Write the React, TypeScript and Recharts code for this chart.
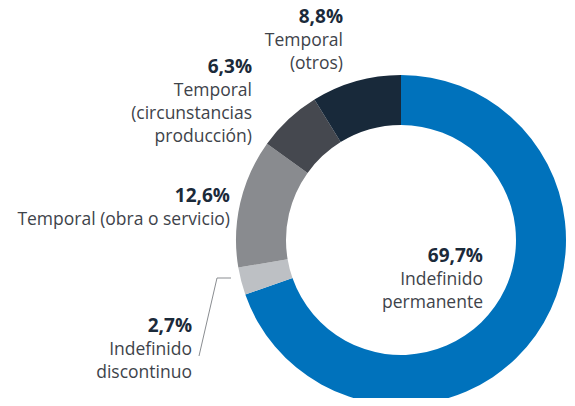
import React from "react";
import { PieChart, Pie, Cell } from "recharts";

// contract types, share of total (%)
const categories = [
  "Indefinido permanente",
  "Indefinido discontinuo",
  "Temporal (obra o servicio)",
  "Temporal (circunstancias producción)",
  "Temporal (otros)",
];
const shares = [69.7, 2.7, 12.6, 6.3, 8.8];
const valueLabels = ["69,7%", "2,7%", "12,6%", "6,3%", "8,8%"];
const labelLines = [
  ["Indefinido", "permanente"],
  ["Indefinido", "discontinuo"],
  ["Temporal (obra o servicio)"],
  ["Temporal", "(circunstancias", "producción)"],
  ["Temporal", "(otros)"],
];

const COLORS = ["#0072BC", "#BDC0C4", "#898B8F", "#45484F", "#18293A"];
const TEXT = "#3E434A";
const BOLD = "#1B2A3A";
const FONT = "'Open Sans', sans-serif";

// label anchor (right edge, first baseline) relative to pie centre
const LABEL_POS = [
  [82, 22],
  [-209, 92],
  [-171, -38],
  [-149, -167],
  [-58, -217],
];

const data = categories.map((name, i) => ({ name, value: shares[i] }));

const renderLabel = (props: any) => {
  const { cx, cy, index } = props;
  const [dx, dy] = LABEL_POS[index];
  const x = cx + dx;
  const y = cy + dy;
  return (
    <g key={`lbl-${index}`}>
      <text x={x} y={y} textAnchor="end" fontFamily={FONT} fontSize={19} fontWeight={700} fill={BOLD}>
        {valueLabels[index]}
      </text>
      <text x={x} y={y} textAnchor="end" fontFamily={FONT} fontSize={17.5} fill={TEXT}>
        {labelLines[index].map((l, j) => (
          <tspan key={j} x={x} dy={23}>
            {l}
          </tspan>
        ))}
      </text>
      {index === 1 && (
        <polyline
          points={`${cx - 170},${cy + 38} ${cx - 184},${cy + 38} ${cx - 202},${cy + 116}`}
          fill="none"
          stroke="#8A8D91"
          strokeWidth={1}
        />
      )}
    </g>
  );
};

export default function App() {
  return (
    <PieChart width={575} height={406} margin={{ top: 0, right: 0, bottom: 0, left: 0 }} style={{ margin: "-8px" }}>
      <Pie
        data={data}
        dataKey="value"
        cx={401}
        cy={240}
        innerRadius={115}
        outerRadius={165}
        startAngle={90}
        endAngle={-270}
        stroke="none"
        label={renderLabel}
        labelLine={false}
        isAnimationActive={false}
      >
        {data.map((d, i) => (
          <Cell key={d.name} fill={COLORS[i]} />
        ))}
      </Pie>
    </PieChart>
  );
}
